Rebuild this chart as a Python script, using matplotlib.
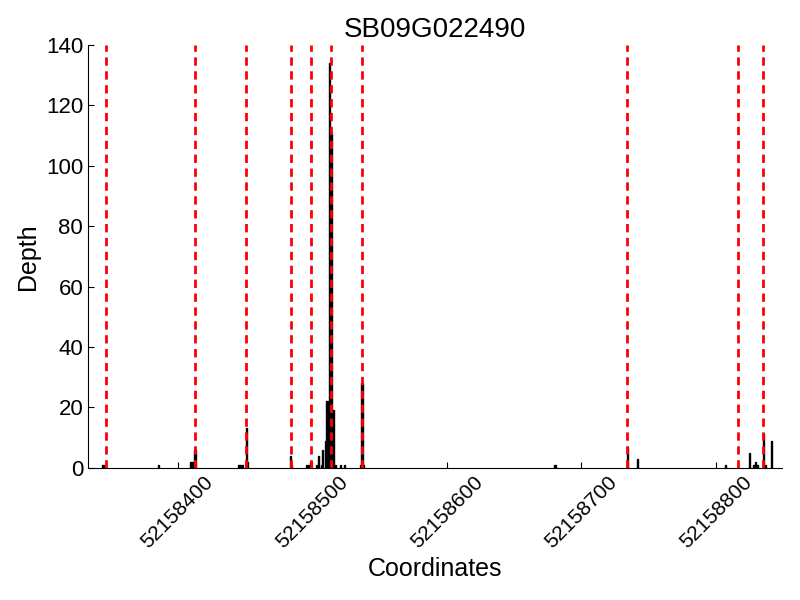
import matplotlib
matplotlib.use('Agg')
import matplotlib.pyplot as plt

plt.rcParams['font.family'] = ['Liberation Sans', 'DejaVu Sans']

base = 52158000
# read-depth bars (coordinate offset from base, depth)
pos = [344, 345, 386, 410, 411, 413, 445, 446, 447, 448, 451, 452,
       484, 485, 496, 497, 499, 503, 505, 507, 508, 510, 511, 513, 514,
       516, 517, 521, 524, 536, 537, 538, 680, 681, 734, 742, 807,
       825, 828, 829, 830, 831, 835, 837, 841]
depth = [1, 1, 1, 2, 2, 6, 1, 1, 1, 1, 13, 2,
         4, 1, 1, 1, 2, 1, 4, 1, 6, 9, 22, 134, 111,
         19, 1, 1, 1, 1, 28, 1, 1, 1, 7, 3, 1,
         5, 1, 2, 1, 1, 11, 1, 9]
coords = [base + p for p in pos]

# exon boundaries
bounds = [347, 413, 451, 484, 499, 514, 537, 734, 816, 835]
bound_coords = [base + b for b in bounds]

fig = plt.figure(figsize=(8, 6), dpi=100)
ax = fig.add_axes([0.11, 0.2205, 0.8675, 0.7045])

ax.bar(coords, depth, width=0.8, color='black', edgecolor='black', linewidth=1.0)
for b in bound_coords:
    ax.axvline(b, color='red', linewidth=2, linestyle=(0, (3, 2)))

ax.set_xlim(base + 333.5, base + 849)
ax.set_ylim(0, 140)
ax.set_yticks(range(0, 141, 20))
ax.set_xticks([base + 400, base + 500, base + 600, base + 700, base + 800])
ax.ticklabel_format(useOffset=False, style='plain', axis='x')

ax.spines['top'].set_visible(False)
ax.spines['right'].set_visible(False)
ax.tick_params(direction='in', length=4, top=False, right=False)
ax.tick_params(axis='x', labelsize=15)
ax.tick_params(axis='y', labelsize=16)
plt.setp(ax.get_xticklabels(), rotation=45)

ax.set_title('SB09G022490', fontsize=20)
ax.set_xlabel('Coordinates', fontsize=18)
ax.set_ylabel('Depth', fontsize=18)

fig.savefig('out.png')
